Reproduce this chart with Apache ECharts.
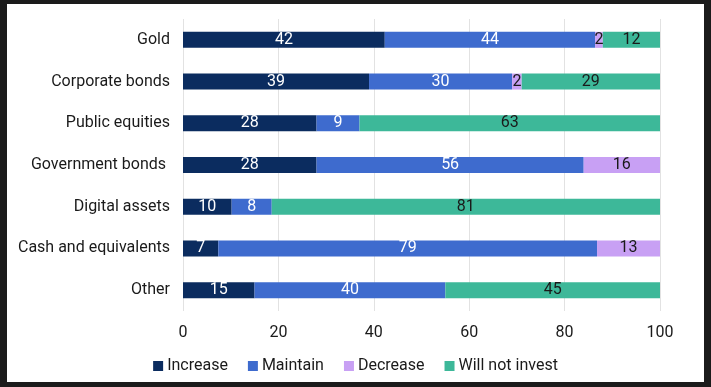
<!DOCTYPE html>
<html><head><meta charset="utf-8">
<script src="https://cdn.jsdelivr.net/npm/echarts@6/dist/echarts.min.js"></script>
<style>
html,body{margin:0;padding:0;background:#1b1b1b;width:711px;height:387px;overflow:hidden}
#c{position:absolute;left:7px;top:4px;width:697px;height:378px;background:#fff}
</style></head>
<body><div id="c"></div>
<script>
const categories = ["Gold","Corporate bonds","Public equities","Government bonds ","Digital assets","Cash and equivalents","Other"];
const increase = [42.3, 39, 28, 28, 10.2, 7.4, 15];
const maintain = [44.1, 30, 9, 56, 8.4, 79.4, 40];
const decrease = [1.6, 2, 0, 16, 0, 13.2, 0];
const willNotInvest = [12, 29, 63, 0, 81.4, 0, 45];
const xTicks = [0, 20, 40, 60, 80, 100];

const chart = echarts.init(document.getElementById('c'));
const font = 'Roboto';
function mk(name, data, color, labelColor){
  return {
    name, type:'bar', stack:'s', data, barWidth:16,
    itemStyle:{color},
    label:{show:true, position:'inside', color:labelColor, fontFamily:font, fontSize:16,
      formatter:p=> p.value>0 ? Math.round(p.value) : ''},
    emphasis:{disabled:true}
  };
}
chart.setOption({
  animation:false,
  grid:{left:176, right:44, top:15, height:292, containLabel:false},
  legend:{top:349, left:'center', itemWidth:10, itemHeight:10, itemGap:20, icon:'rect',
    textStyle:{fontFamily:font, fontSize:16, color:'#1a1a1a', padding:[0,0,0,-1]}},
  xAxis:{type:'value', min:0, max:100, interval:20,
    axisLine:{show:false}, axisTick:{show:false},
    splitLine:{lineStyle:{color:'#e2e2e2'}},
    axisLabel:{fontFamily:font, fontSize:16, color:'#1a1a1a', margin:14,
      formatter:v=> xTicks.includes(v) ? String(v) : ''}},
  yAxis:{type:'category', data:categories, inverse:true,
    axisLine:{show:false}, axisTick:{show:false},
    axisLabel:{fontFamily:font, fontSize:16, color:'#1a1a1a', margin:13}},
  series:[
    mk('Increase', increase, '#0b2c5f', '#ffffff'),
    mk('Maintain', maintain, '#3e6bce', '#ffffff'),
    mk('Decrease', decrease, '#c8a0f4', '#1a1a1a'),
    mk('Will not invest', willNotInvest, '#3db899', '#1a1a1a')
  ]
});
</script></body></html>
